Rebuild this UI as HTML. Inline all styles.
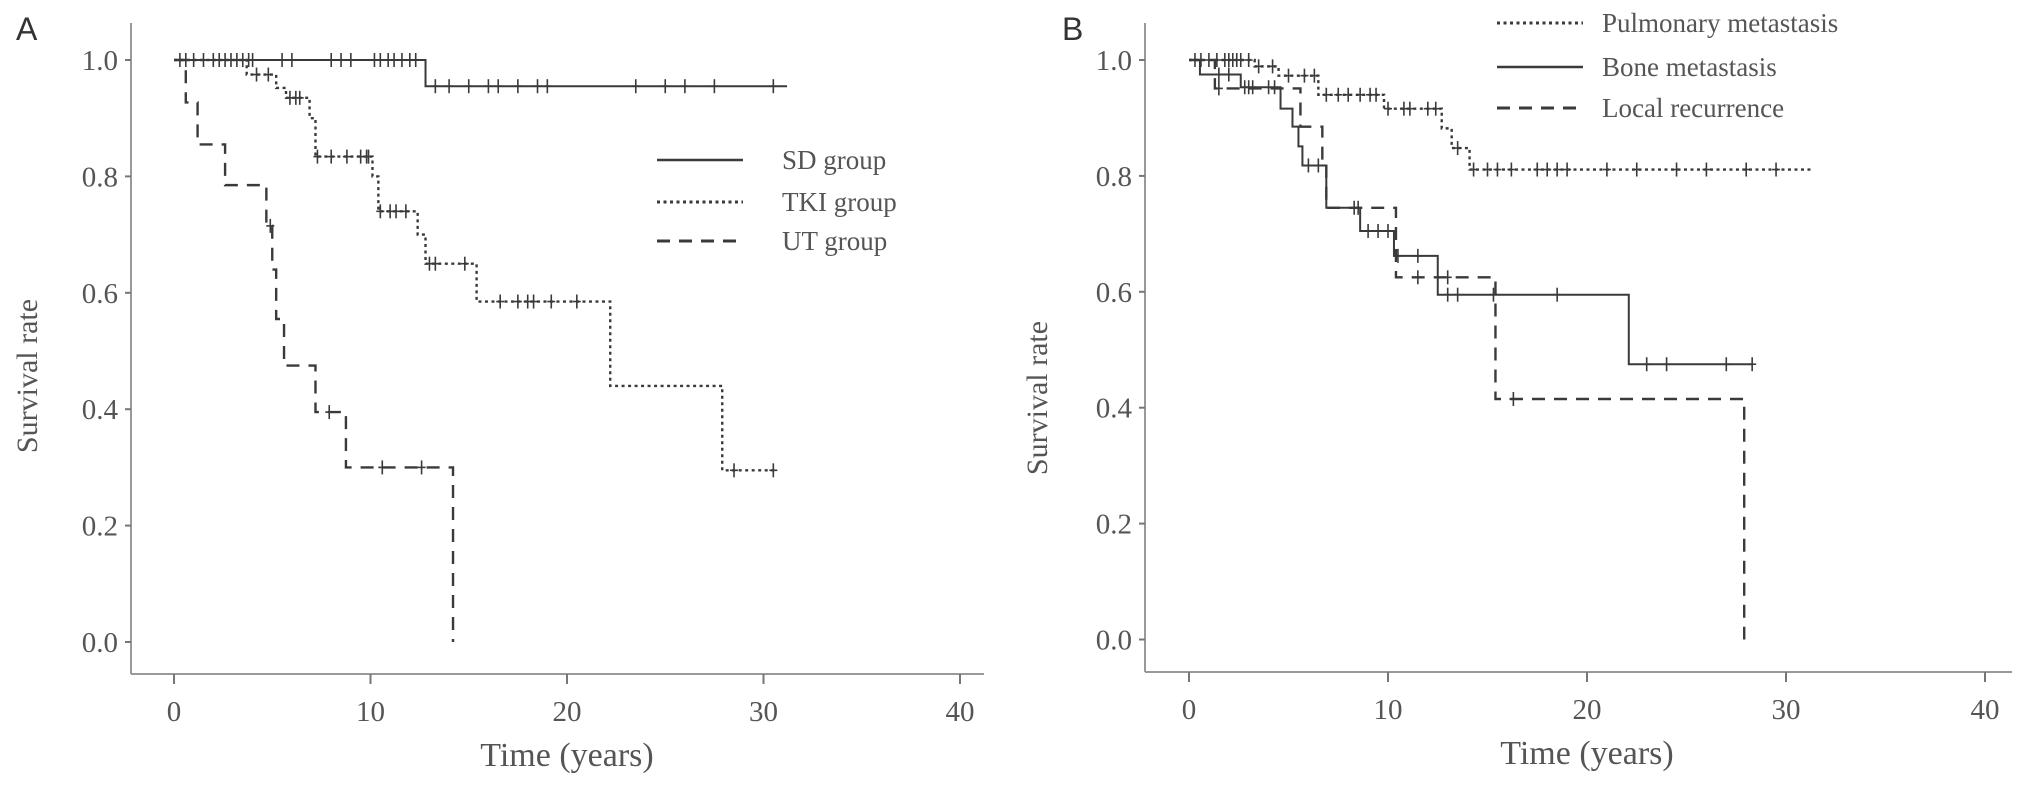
<!DOCTYPE html>
<html><head><meta charset="utf-8"><style>
html,body{margin:0;padding:0;background:#fff;}
svg{display:block;font-family:"Liberation Serif",serif;}
</style></head><body>
<svg id="chart" width="2031" height="793" viewBox="0 0 2031 793">
<g id="pA"></g>
<g id="pB"></g>
</svg>
<script>
// ---------- data ----------
const xTicks = [0, 10, 20, 30, 40];
const yTicks = [0.0, 0.2, 0.4, 0.6, 0.8, 1.0];
const yTickLabels = ["0.0", "0.2", "0.4", "0.6", "0.8", "1.0"];
// Panel A
const sdTimes = [0, 12.8, 31.2];
const sdSurv = [1.0, 0.955, 0.955];
const sdCensT = [0.3,0.6,1,1.5,2,2.3,2.6,2.9,3.2,3.5,3.8,4,5.5,6,8,8.5,9,10.2,10.5,10.9,11.2,11.6,12,12.3];
const sdCensT2 = [13.3,14,15,16,16.5,17.5,18.5,19,23.5,25,26,27.5,30.5];
const tkiTimes = [0, 3.7, 5.2, 5.7, 6.9, 7.2, 10.1, 10.4, 12.4, 12.8, 15.4, 22.2, 27.9, 30.6];
const tkiSurv = [1.0, 0.975, 0.952, 0.935, 0.90, 0.834, 0.80, 0.74, 0.70, 0.65, 0.585, 0.44, 0.295, 0.295];
const tkiCensT = [4.2,4.8,5.9,6.2,6.4,7.3,8,8.8,9.5,9.8,9.9,10.5,11,11.3,11.8,13,13.3,14.8,16.6,17.5,18,18.3,19.2,20.5,28.5,30.5];
const utTimes = [0, 0.6, 1.2, 2.6, 4.7, 5.0, 5.2, 5.6, 7.2, 8.75, 14.2];
const utSurv = [1.0, 0.927, 0.855, 0.785, 0.715, 0.64, 0.555, 0.475, 0.395, 0.30, 0.0];
const utCensT = [4.9, 7.9, 10.6, 12.6];
// Panel B
const pulTimes = [0, 3.3, 4.5, 6.5, 9.8, 12.7, 13.2, 14.1, 31.3];
const pulSurv = [1.0, 0.989, 0.973, 0.94, 0.916, 0.882, 0.848, 0.811, 0.811];
const pulCensT = [0.3,0.6,1,1.4,1.8,2,2.2,2.4,2.6,3,3.5,4.2,5,5.8,6.3,6.9,7.5,8,8.6,9.1,9.4,10,10.8,11.1,12,12.4,13.5,14.3,15,15.5,16.2,17.5,18,18.5,19,21,22.5,24.5,26,28,29.5];
const boneTimes = [0, 0.55, 2.6, 4.6, 5.2, 5.5, 5.7, 6.9, 8.6, 10.3, 12.5, 22.1, 28.3];
const boneSurv = [1.0, 0.975, 0.953, 0.916, 0.885, 0.851, 0.818, 0.745, 0.705, 0.662, 0.595, 0.475, 0.475];
const boneCensT = [1.5,2,2.8,3,3.2,4,4.3,6,6.5,8.5,9,9.5,10,10.5,11.5,13,13.5,15.3,18.5,23,24,27,28.3];
const locTimes = [0, 1.3, 5.6, 6.7, 6.9, 10.4, 15.4, 27.9];
const locSurv = [1.0, 0.951, 0.885, 0.82, 0.745, 0.625, 0.415, 0.0];
const locCensT = [1.5, 8.3, 11.5, 13, 16.3];

const NS = "http://www.w3.org/2000/svg";
function mk(parent, tag, attrs){const e=document.createElementNS(NS,tag);for(const k in attrs)e.setAttribute(k,attrs[k]);parent.appendChild(e);return e;}
function stepAt(times, surv, t){let s=surv[0];for(let i=0;i<times.length;i++){if(times[i]<=t)s=surv[i];}return s;}

function panel(g, cfg){
  const X = t => cfg.x0 + t*cfg.px;
  const Y = v => cfg.y0 - v*cfg.py;
  const ax = mk(g,'line',{x1:cfg.axX,y1:cfg.axTop,x2:cfg.axX,y2:cfg.axY,stroke:'#999','stroke-width':2});
  
  
  const bx = mk(g,'line',{x1:cfg.axX,y1:cfg.axY,x2:cfg.axRight,y2:cfg.axY,stroke:'#999','stroke-width':2});
  
  
  xTicks.forEach(t=>{
    const l=mk(g,'line',{x1:X(t),y1:cfg.axY,x2:X(t),y2:cfg.axY+10,stroke:'#777','stroke-width':2});
    
    
    const tx=mk(g,'text',{x:X(t),y:cfg.axY+47,'font-size':29,fill:'#555','text-anchor':'middle'});
    tx.textContent=t;
    
    
  });
  yTicks.forEach((v,i)=>{
    const l=mk(g,'line',{x1:cfg.axX-6,y1:Y(v),x2:cfg.axX,y2:Y(v),stroke:'#777','stroke-width':2});
    
    
    const tx=mk(g,'text',{x:cfg.axX-13,y:Y(v)+10,'font-size':29,fill:'#555','text-anchor':'end'});
    tx.textContent=yTickLabels[i];
    
    
  });
  const xt=mk(g,'text',{x:(X(0)+X(40))/2,y:cfg.axY+92,'font-size':34,fill:'#555','text-anchor':'middle'});
  xt.textContent='Time (years)';
  
  
  const yt=mk(g,'text',{x:0,y:0,'font-size':30,fill:'#555','text-anchor':'middle',transform:`translate(${cfg.yTitleX},${cfg.yTitleY}) rotate(-90)`});
  yt.textContent='Survival rate';
  
  
  const pl=mk(g,'text',{x:cfg.labX,y:40,'font-size':32,fill:'#333','font-family':'"Liberation Sans",sans-serif'});
  pl.textContent=cfg.label;
  
  

  cfg.series.forEach(s=>{
    let d=`M${X(s.t[0])},${Y(s.s[0])}`;
    for(let i=1;i<s.t.length;i++){d+=` H${X(s.t[i])} V${Y(s.s[i])}`;}
    const p=mk(g,'path',{d:d,fill:'none',stroke:'#3a3a3a','stroke-width':s.w,'stroke-dasharray':s.dash});
    
    
    s.cens.forEach(t=>{
      const v=stepAt(s.t,s.s,t);
      const c=mk(g,'line',{x1:X(t),y1:Y(v)-7,x2:X(t),y2:Y(v)+7,stroke:'#3a3a3a','stroke-width':1.6});
      
      
      const h=mk(g,'line',{x1:X(t)-4,y1:Y(v),x2:X(t)+4,y2:Y(v),stroke:'#3a3a3a','stroke-width':1.6});
      
      
    });
  });
  cfg.legend.forEach((L,i)=>{
    const y=cfg.legY[i];
    const l=mk(g,'line',{x1:cfg.legX1,y1:y,x2:cfg.legX2,y2:y,stroke:'#3a3a3a','stroke-width':L.w+0.5,'stroke-dasharray':L.dash});
    
    
    const tx=mk(g,'text',{x:cfg.legTX,y:y+9,'font-size':27,fill:'#555'});
    tx.textContent=L.text;
    
    
  });
}
const solid='none', dotted='3,3.5', dashed='13,9';
panel(document.getElementById('pA'),{
  x0:174, px:19.65, y0:642, py:582, axX:131, axTop:23, axY:674, axRight:984,
  yTitleX:37, yTitleY:376, labX:16, label:'A',
  series:[
    {name:'sd-group',t:sdTimes,s:sdSurv,cens:sdCensT.concat(sdCensT2),w:2,dash:solid},
    {name:'tki-group',t:tkiTimes,s:tkiSurv,cens:tkiCensT,w:2.4,dash:dotted},
    {name:'ut-group',t:utTimes,s:utSurv,cens:utCensT,w:2.4,dash:dashed}
  ],
  legend:[{text:'SD group',w:2,dash:solid},{text:'TKI group',w:2.4,dash:dotted},{text:'UT group',w:2.4,dash:dashed}],
  legX1:657, legX2:743, legY:[160,202,241], legTX:782
});
panel(document.getElementById('pB'),{
  x0:1189, px:19.9, y0:639.5, py:579.5, axX:1145, axTop:23, axY:672, axRight:2012,
  yTitleX:1047, yTitleY:398, labX:1062, label:'B',
  series:[
    {name:'pulmonary-metastasis',t:pulTimes,s:pulSurv,cens:pulCensT,w:2.4,dash:dotted},
    {name:'bone-metastasis',t:boneTimes,s:boneSurv,cens:boneCensT,w:2,dash:solid},
    {name:'local-recurrence',t:locTimes,s:locSurv,cens:locCensT,w:2.4,dash:dashed}
  ],
  legend:[{text:'Pulmonary metastasis',w:2.4,dash:dotted},{text:'Bone metastasis',w:2,dash:solid},{text:'Local recurrence',w:2.4,dash:dashed}],
  legX1:1497, legX2:1583, legY:[23,67,108], legTX:1602
});
</script>
</body></html>
